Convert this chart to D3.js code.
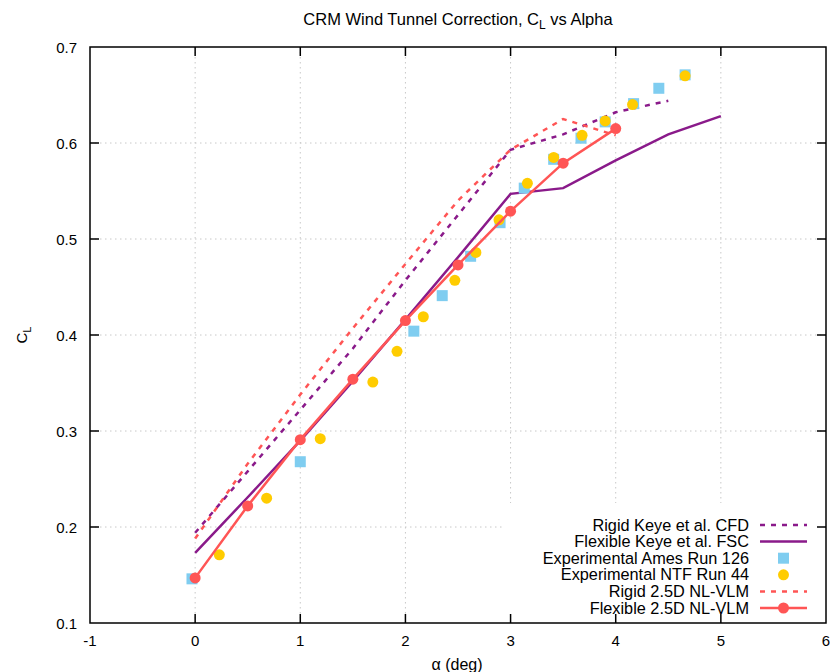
<!DOCTYPE html>
<html>
<head>
<meta charset="utf-8">
<script src="https://cdn.jsdelivr.net/npm/d3@7"></script>
<style>
  body { margin: 0; background: #fff; }
  svg { font-family: "Liberation Sans", Arial, sans-serif; }
</style>
</head>
<body>
<svg id="chart" width="830" height="672"></svg>
<script>
// ── data ──
const cfdAlpha = [0, 0.5, 1, 1.5, 2, 2.5, 3, 3.5, 4, 4.5];
const cfdCL = [0.194, 0.258, 0.322, 0.386, 0.457, 0.525, 0.593, 0.609, 0.632, 0.644];

const fscAlpha = [0, 0.5, 1, 1.5, 2, 2.5, 3, 3.5, 4, 4.5, 5];
const fscCL = [0.173, 0.231, 0.29, 0.352, 0.416, 0.481, 0.547, 0.553, 0.582, 0.609, 0.628];

const amesAlpha = [-0.03, 1.0, 2.08, 2.35, 2.62, 2.9, 3.13, 3.41, 3.67, 3.9, 4.17, 4.41, 4.66];
const amesCL = [0.146, 0.268, 0.404, 0.441, 0.482, 0.517, 0.553, 0.583, 0.605, 0.622, 0.641, 0.657, 0.671];

const ntfAlpha = [0.23, 0.68, 1.19, 1.69, 1.92, 2.17, 2.47, 2.67, 2.89, 3.16, 3.41, 3.68, 3.9, 4.16, 4.66];
const ntfCL = [0.171, 0.23, 0.292, 0.351, 0.383, 0.419, 0.457, 0.486, 0.52, 0.558, 0.585, 0.608, 0.623, 0.64, 0.67];

const rigidVlmAlpha = [0, 0.5, 1, 1.5, 2, 2.5, 3, 3.5, 4];
const rigidVlmCL = [0.188, 0.266, 0.338, 0.407, 0.474, 0.54, 0.593, 0.625, 0.608];

const flexVlmAlpha = [0, 0.5, 1, 1.5, 2, 2.5, 3, 3.5, 4];
const flexVlmCL = [0.147, 0.222, 0.291, 0.354, 0.415, 0.473, 0.529, 0.579, 0.615];

const xTicks = [-1, 0, 1, 2, 3, 4, 5, 6];
const yTicks = [0.1, 0.2, 0.3, 0.4, 0.5, 0.6, 0.7];

const PURPLE = "#8a1a8a";
const RED = "#ff5555";
const SKY = "#7fcdf0";
const GOLD = "#ffcc00";

const svg = d3.select("#chart");
const pLeft = 90, pRight = 826, pTop = 47, pBottom = 623;

const x = d3.scaleLinear().domain([-1, 6]).range([pLeft, pRight]);
const y = d3.scaleLinear().domain([0.1, 0.7]).range([pBottom, pTop]);

const zip = (xs, ys) => xs.map((a, i) => ({ a: a, c: ys[i] }));
const line = d3.line().x((d) => x(d.a)).y((d) => y(d.c));

// ── grid ──
const grid = svg.append("g").attr("stroke", "#c8c8c8").attr("stroke-width", 1)
  .attr("stroke-dasharray", "1.5,3.5");
xTicks.slice(1, -1).forEach((t) => {
  grid.append("line").attr("x1", x(t)).attr("x2", x(t)).attr("y1", pTop).attr("y2", pBottom);
});
yTicks.slice(1, -1).forEach((t) => {
  grid.append("line").attr("x1", pLeft).attr("x2", pRight).attr("y1", y(t)).attr("y2", y(t));
});

// ── series ──
const plot = svg.append("g");

plot.append("path").datum(zip(cfdAlpha, cfdCL)).attr("d", line)
  .attr("fill", "none").attr("stroke", PURPLE).attr("stroke-width", 2.5)
  .attr("stroke-dasharray", "5,6");

plot.append("path").datum(zip(fscAlpha, fscCL)).attr("d", line)
  .attr("fill", "none").attr("stroke", PURPLE).attr("stroke-width", 2.5);

plot.selectAll(".ames").data(zip(amesAlpha, amesCL)).enter().append("rect")
  .attr("x", (d) => x(d.a) - 5.5).attr("y", (d) => y(d.c) - 5.5)
  .attr("width", 11).attr("height", 11).attr("fill", SKY);

plot.selectAll(".ntf").data(zip(ntfAlpha, ntfCL)).enter().append("circle")
  .attr("cx", (d) => x(d.a)).attr("cy", (d) => y(d.c)).attr("r", 5.5).attr("fill", GOLD);

plot.append("path").datum(zip(rigidVlmAlpha, rigidVlmCL)).attr("d", line)
  .attr("fill", "none").attr("stroke", RED).attr("stroke-width", 2.5)
  .attr("stroke-dasharray", "5,6");

plot.append("path").datum(zip(flexVlmAlpha, flexVlmCL)).attr("d", line)
  .attr("fill", "none").attr("stroke", RED).attr("stroke-width", 2.5);
plot.selectAll(".flex").data(zip(flexVlmAlpha, flexVlmCL)).enter().append("circle")
  .attr("cx", (d) => x(d.a)).attr("cy", (d) => y(d.c)).attr("r", 5.5).attr("fill", RED);

// ── legend (opaque box, hides grid) ──
const legendItems = [
  { label: "Rigid Keye et al. CFD", color: PURPLE, dash: "5,6", mark: null },
  { label: "Flexible Keye et al. FSC", color: PURPLE, dash: null, mark: null },
  { label: "Experimental Ames Run 126", color: SKY, dash: "none", mark: "square" },
  { label: "Experimental NTF Run 44", color: GOLD, dash: "none", mark: "circle" },
  { label: "Rigid 2.5D NL-VLM", color: RED, dash: "5,6", mark: null },
  { label: "Flexible 2.5D NL-VLM", color: RED, dash: null, mark: "circle" },
];
const legend = svg.append("g");
legend.append("rect").attr("x", 502).attr("y", 503).attr("width", pRight - 502).attr("height", pBottom - 503)
  .attr("fill", "#fff");
legendItems.forEach((it, i) => {
  const ly = 525 + i * 16.6;
  legend.append("text").attr("x", 749).attr("y", ly + 5.5).attr("text-anchor", "end")
    .attr("font-size", 16.3).attr("fill", "#000").text(it.label);
  if (it.dash !== "none") {
    legend.append("line").attr("x1", 760).attr("x2", 807).attr("y1", ly).attr("y2", ly)
      .attr("stroke", it.color).attr("stroke-width", 2.5)
      .attr("stroke-dasharray", it.dash);
  }
  if (it.mark === "square") {
    legend.append("rect").attr("x", 783.5 - 5.5).attr("y", ly - 5.5).attr("width", 11).attr("height", 11)
      .attr("fill", it.color);
  } else if (it.mark === "circle") {
    legend.append("circle").attr("cx", 783.5).attr("cy", ly).attr("r", 5.5).attr("fill", it.color);
  }
});

// ── border + ticks (mirrored, inward) ──
const axes = svg.append("g").attr("stroke", "#000").attr("stroke-width", 1.5);
xTicks.slice(1, -1).forEach((t) => {
  axes.append("line").attr("x1", x(t)).attr("x2", x(t)).attr("y1", pBottom).attr("y2", pBottom - 9);
  axes.append("line").attr("x1", x(t)).attr("x2", x(t)).attr("y1", pTop).attr("y2", pTop + 9);
});
yTicks.slice(1, -1).forEach((t) => {
  axes.append("line").attr("x1", pLeft).attr("x2", pLeft + 9).attr("y1", y(t)).attr("y2", y(t));
  axes.append("line").attr("x1", pRight).attr("x2", pRight - 9).attr("y1", y(t)).attr("y2", y(t));
});
svg.append("rect").attr("x", pLeft).attr("y", pTop).attr("width", pRight - pLeft).attr("height", pBottom - pTop)
  .attr("fill", "none").attr("stroke", "#000").attr("stroke-width", 1.5);

// ── tick labels ──
svg.append("g").selectAll("text").data(xTicks).enter().append("text")
  .attr("x", (d) => x(d)).attr("y", 646).attr("text-anchor", "middle")
  .attr("font-size", 15).text((d) => String(d));
svg.append("g").selectAll("text").data(yTicks).enter().append("text")
  .attr("x", 77).attr("y", (d) => y(d) + 5.5).attr("text-anchor", "end")
  .attr("font-size", 15).text((d) => d.toFixed(1));

// ── titles ──
const title = svg.append("text").attr("x", 458).attr("y", 25).attr("text-anchor", "middle")
  .attr("font-size", 16.5);
title.append("tspan").text("CRM Wind Tunnel Correction, C");
title.append("tspan").attr("font-size", 12).attr("dy", 4).text("L");
title.append("tspan").attr("dy", -4).text(" vs Alpha");

svg.append("text").attr("x", 457).attr("y", 670).attr("text-anchor", "middle")
  .attr("font-size", 16).text("\u03b1 (deg)");

const yl = svg.append("text").attr("transform", "translate(27,335) rotate(-90)")
  .attr("text-anchor", "middle").attr("font-size", 15);
yl.append("tspan").text("C");
yl.append("tspan").attr("font-size", 11).attr("dy", 4).text("L");
</script>
</body>
</html>
